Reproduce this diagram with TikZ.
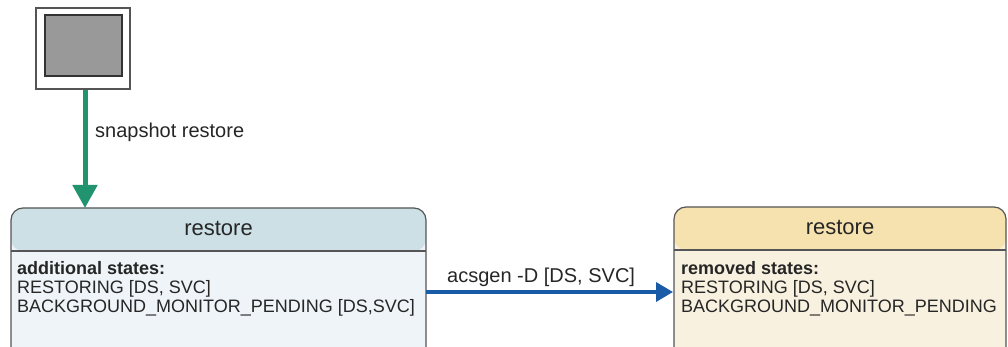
\documentclass[tikz,border=0pt]{standalone}
\usepackage{fontspec}
\setmainfont{Liberation Sans}
\usetikzlibrary{arrows.meta}
\definecolor{grn}{HTML}{22936F}
\definecolor{blu}{HTML}{1A5BA8}
\definecolor{hdA}{HTML}{CDE0E6}
\definecolor{bdA}{HTML}{EEF4F7}
\definecolor{hdB}{HTML}{F6E2AE}
\definecolor{bdB}{HTML}{F8F1DF}
\definecolor{edge}{HTML}{555555}
\tikzset{
  hdr/.style={font=\fontsize{22}{24}\selectfont, text=black!85, anchor=base},
  bodytxt/.style={font=\fontsize{18}{19}\selectfont, text=black!85, anchor=north west, align=left, inner sep=0pt},
  elabel/.style={font=\fontsize{20}{22}\selectfont, text=black!85, anchor=base west, inner sep=0pt},
  boxline/.style={draw=edge, line width=1.2pt},
}
\begin{document}
\begin{tikzpicture}[x=1pt,y=-1pt]
\useasboundingbox (0,0) rectangle (1008,347);
\clip (0,0) rectangle (1008,347);
% initial state
\node[draw=edge, line width=1.2pt, fill=white, minimum width=94pt, minimum height=81pt, inner sep=0pt] (init) at (83,48.5) {};
\node[draw=black!80, line width=1.2pt, fill=black!40, minimum width=77pt, minimum height=61pt, inner sep=0pt] (initin) at (83.5,45.5) {};
% left box
\fill[bdA, rounded corners=12pt] (11,208) rectangle (426,380);
\fill[hdA, rounded corners=12pt] (11,208) -- (426,208) -- (426,251) -- (11,251) -- cycle;
\draw[boxline, rounded corners=12pt] (11,380) -- (11,208) -- (426,208) -- (426,380);
\draw[boxline] (11,251) -- (426,251);
\node[hdr] (lh) at (218.5,236) {restore};
\node[bodytxt] (lb) at (17,261) {\textbf{additional states:}\\RESTORING [DS, SVC]\\BACKGROUND\_MONITOR\_PENDING [DS,SVC]};
\coordinate (Lbox) at (85,208);
\coordinate (Lright) at (426,292);
% right box
\fill[bdB, rounded corners=12pt] (674,207) rectangle (1006,380);
\fill[hdB, rounded corners=12pt] (674,207) -- (1006,207) -- (1006,250) -- (674,250) -- cycle;
\draw[boxline, rounded corners=12pt] (674,380) -- (674,207) -- (1006,207) -- (1006,380);
\draw[boxline] (674,250) -- (1006,250);
\node[hdr] (rh) at (840,235) {restore};
\node[bodytxt] (rb) at (681,261) {\textbf{removed states:}\\RESTORING [DS, SVC]\\BACKGROUND\_MONITOR\_PENDING};
\coordinate (Rleft) at (673,292);
% connectors
\draw[grn, line width=5pt, -{Triangle[width=24pt,length=23pt]}] (init.south -| Lbox) -- (Lbox);
\node[elabel] (l1) at (95,138) {snapshot restore};
\draw[blu, line width=3.5pt, -{Triangle[width=19pt,length=17pt]}] (Lright) -- (Rleft);
\node[elabel] (l2) at (447,282) {acsgen -D [DS, SVC]};
\end{tikzpicture}
\end{document}
